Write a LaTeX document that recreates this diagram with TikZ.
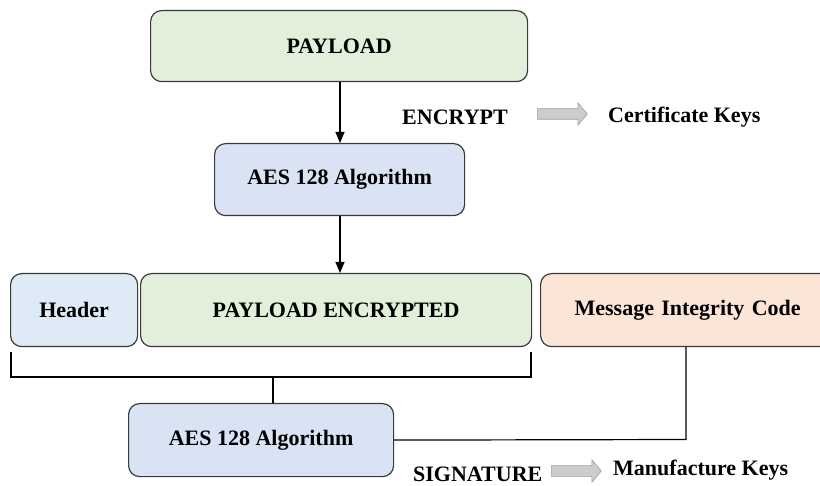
\documentclass[tikz,border=0pt]{standalone}
\usepackage{fontspec}
\setmainfont{Liberation Serif}
\usetikzlibrary{arrows.meta,shapes.arrows}
\definecolor{pgreen}{HTML}{E2EFDA}
\definecolor{pblue}{HTML}{DAE3F3}
\definecolor{hblue}{HTML}{DEEBF7}
\definecolor{mpeach}{HTML}{FBE5D6}
\definecolor{edge}{HTML}{3A3A3A}
\tikzset{
  blk/.style={draw=edge, line width=1.2pt, rounded corners=11pt, inner sep=0pt,
    font=\fontsize{22}{26}\selectfont\bfseries, anchor=north west},
  lbl/.style={font=\fontsize{22}{26}\selectfont\bfseries, inner sep=0pt},
  garrow/.style={single arrow, draw=gray!75, fill=gray!40, line width=0.6pt,
    minimum height=50pt, inner xsep=0pt, inner ysep=5pt,
    single arrow head extend=6pt, single arrow tip angle=100},
  link/.style={draw=black, line width=1.2pt},
  flow/.style={link, -{Triangle[length=11pt,width=9pt]}}
}
\begin{document}
\begin{tikzpicture}[x=1pt,y=-1pt]
  \useasboundingbox (0,0) rectangle (820,486);
  % top row
  \node[blk, fill=pgreen, minimum width=377pt, minimum height=71pt] (payload) at (150,10) {PAYLOAD};
  \node[blk, fill=pblue, minimum width=250pt, minimum height=72pt] (aes1) at (214,143) {AES 128 Algorithm};
  % packet row
  \node[blk, fill=hblue, minimum width=127pt, minimum height=73pt] (hdr) at (10,273) {Header};
  \node[blk, fill=pgreen, minimum width=391pt, minimum height=73pt] (penc) at (140,273) {PAYLOAD ENCRYPTED};
  \node[blk, fill=mpeach, minimum width=300pt, minimum height=73pt, text width=300pt, align=left] (mic) at (540,273) {\hspace*{34pt}Message Integrity Code};
  % signature block
  \node[blk, fill=pblue, minimum width=265pt, minimum height=73pt] (aes2) at (128,403) {AES 128 Algorithm};
  % flow arrows
  \draw[flow] (payload.south -| 340,0) -- (aes1.north -| 340,0);
  \draw[flow] (aes1.south -| 340,0) -- (penc.north -| 340,0);
  % bracket under header + payload
  \coordinate (bl) at (11,352);
  \coordinate (br) at (531,352);
  \coordinate (bm) at (273,377);
  \draw[link] (bl) -- (11,377) -- (531,377) -- (br);
  \draw[link] (bm) -- (aes2.north -| bm);
  % MIC feedback line
  \draw[link] (aes2.east) -- (686,439.5) -- (mic.south -| 686,0);
  % key labels
  \node[lbl, anchor=west] (enc) at (402,117) {ENCRYPT};
  \node[garrow, anchor=west] (ga1) at (537,114) {};
  \node[lbl, anchor=west] (cert) at (608,117) {Certificate Keys};
  \node[lbl, anchor=west] (sig) at (413,474) {SIGNATURE};
  \node[garrow, anchor=west] (ga2) at (551,471) {};
  \node[lbl, anchor=west] (man) at (613,470) {Manufacture Keys};
\end{tikzpicture}
\end{document}
